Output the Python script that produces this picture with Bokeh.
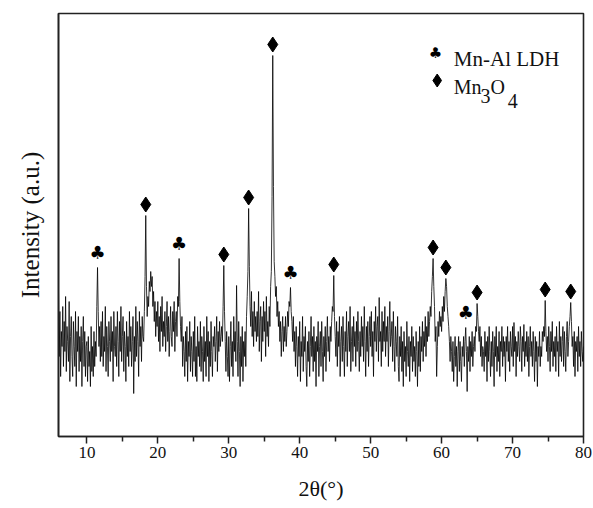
import numpy as np
from bokeh.plotting import figure
from bokeh.models import Range1d, FixedTicker, Label, ColumnDataSource
from bokeh.core.properties import value
from bokeh.embed import file_html
from bokeh.resources import INLINE

# ---- data ----
two_theta = np.round(np.arange(6.0, 80.0001, 0.1), 1)   # 2θ grid, 0.1° step

intensity = [
    145, 80, 125, 60, 105, 90, 130, 70, 115, 85,      # 6.x
    140, 65, 110, 95, 75, 135, 55, 100, 120, 80,      # 7.x
    60, 115, 90, 70, 125, 50, 105, 85, 120, 65,       # 8.x
    100, 75, 110, 50, 95, 120, 70, 105, 60, 90,       # 9.x
    95, 55, 100, 70, 85, 50, 110, 65, 90, 60,         # 10.x
    105, 70, 95, 80, 130, 169, 125, 90, 110, 75,      # 11.x
    115, 80, 125, 70, 100, 85, 130, 65, 110, 90,      # 12.x
    60, 115, 95, 75, 120, 85, 105, 55, 125, 90,       # 13.x
    80, 110, 70, 125, 95, 60, 115, 85, 130, 75,       # 14.x
    100, 120, 65, 105, 90, 55, 115, 80, 100, 70,      # 15.x
    125, 85, 110, 70, 95, 120, 43, 100, 75, 130,      # 16.x
    80, 115, 95, 60, 125, 90, 110, 75, 120, 100,      # 17.x
    95, 125, 160, 221, 150, 120, 140, 130, 155, 145,  # 18.x
    165, 150, 160, 130, 145, 115, 135, 100, 125, 110, # 19.x
    135, 95, 120, 85, 130, 105, 140, 90, 115, 100,    # 20.x
    125, 85, 110, 135, 95, 120, 80, 105, 130, 100,    # 21.x
    90, 125, 105, 135, 85, 115, 125, 100, 140, 130,   # 22.x
    178, 135, 110, 95, 120, 70, 100, 85, 60, 105,     # 23.x
    75, 110, 55, 95, 80, 115, 65, 100, 85, 60,        # 24.x
    105, 75, 120, 60, 90, 55, 110, 80, 95, 70,        # 25.x
    115, 65, 100, 85, 55, 110, 75, 95, 60, 120,       # 26.x
    80, 105, 55, 95, 70, 115, 85, 60, 100, 90,        # 27.x
    110, 75, 95, 120, 65, 105, 85, 115, 90, 100,      # 28.x
    110, 95, 130, 171, 125, 95, 65, 105, 80, 60,      # 29.x
    100, 55, 90, 115, 70, 95, 60, 120, 85, 105,       # 30.x
    75, 151, 95, 60, 115, 85, 50, 100, 70, 110,       # 31.x
    55, 95, 80, 105, 70, 120, 140, 165, 228, 170,     # 32.x
    130, 110, 145, 100, 125, 90, 135, 105, 120, 95,   # 33.x
    125, 100, 145, 85, 115, 130, 75, 120, 95, 135,    # 34.x
    105, 125, 80, 140, 100, 115, 90, 130, 110, 150,   # 35.x
    165, 240, 381, 250, 175, 160, 140, 150, 120, 135, # 36.x
    110, 125, 95, 115, 80, 105, 120, 85, 110, 95,     # 37.x
    120, 90, 105, 125, 110, 135, 130, 149, 125, 115,  # 38.x
    95, 120, 85, 105, 70, 110, 90, 60, 100, 80,       # 39.x
    115, 55, 95, 80, 120, 65, 100, 85, 110, 70,       # 40.x
    50, 95, 75, 105, 60, 90, 120, 80, 100, 65,        # 41.x
    110, 75, 95, 50, 100, 85, 115, 60, 90, 105,       # 42.x
    70, 115, 85, 55, 100, 80, 110, 65, 95, 120,       # 43.x
    85, 100, 75, 110, 95, 115, 130, 125, 161, 120,    # 44.x
    100, 80, 115, 70, 105, 90, 120, 60, 95, 110,      # 45.x
    75, 120, 90, 60, 105, 85, 125, 70, 100, 115,      # 46.x
    85, 130, 65, 95, 110, 75, 120, 90, 105, 70,       # 47.x
    115, 85, 125, 95, 65, 105, 80, 120, 90, 110,      # 48.x
    75, 130, 95, 60, 110, 85, 115, 70, 100, 120,      # 49.x
    90, 125, 80, 105, 60, 115, 95, 130, 85, 110,      # 50.x
    120, 75, 139, 95, 105, 70, 125, 85, 115, 95,      # 51.x
    130, 80, 110, 95, 120, 70, 105, 135, 90, 100,     # 52.x
    115, 75, 125, 90, 65, 110, 95, 80, 120, 70,       # 53.x
    55, 100, 80, 110, 65, 95, 50, 105, 75, 90,        # 54.x
    60, 115, 85, 70, 100, 55, 95, 80, 110, 65,        # 55.x
    100, 75, 90, 60, 105, 85, 50, 95, 70, 110,        # 56.x
    65, 100, 85, 115, 75, 105, 90, 120, 80, 110,      # 57.x
    95, 125, 100, 115, 130, 120, 145, 160, 178, 150,  # 58.x
    130, 95, 110, 60, 90, 115, 100, 125, 110, 120,    # 59.x
    105, 130, 115, 140, 125, 145, 158, 150, 130, 120, # 60.x
    110, 95, 75, 100, 85, 65, 95, 55, 80, 100,        # 61.x
    70, 90, 50, 85, 100, 65, 95, 75, 55, 90,          # 62.x
    80, 100, 70, 95, 109, 85, 45, 90, 75, 100,        # 63.x
    65, 95, 80, 105, 70, 90, 100, 85, 110, 105,       # 64.x
    133, 120, 105, 95, 110, 80, 100, 70, 90, 85,      # 65.x
    65, 105, 80, 95, 55, 100, 75, 110, 85, 60,        # 66.x
    95, 70, 105, 85, 50, 100, 80, 110, 65, 90,        # 67.x
    75, 105, 60, 95, 85, 110, 70, 100, 80, 95,        # 68.x
    55, 100, 85, 110, 75, 95, 65, 105, 90, 80,        # 69.x
    110, 70, 114, 85, 100, 60, 95, 80, 105, 90,       # 70.x
    75, 110, 95, 65, 100, 85, 112, 70, 95, 80,        # 71.x
    105, 75, 100, 60, 90, 110, 80, 95, 70, 105,       # 72.x
    85, 55, 100, 75, 95, 50, 90, 80, 105, 70,         # 73.x
    90, 80, 105, 95, 110, 100, 136, 105, 85, 100,     # 74.x
    75, 110, 90, 65, 105, 85, 115, 70, 95, 80,        # 75.x
    100, 65, 110, 85, 95, 60, 115, 80, 100, 75,       # 76.x
    95, 110, 70, 105, 85, 65, 100, 115, 80, 95,       # 77.x
    110, 120, 134, 115, 90, 100, 70, 105, 60, 95,     # 78.x
    85, 100, 65, 110, 80, 95, 70, 105, 85, 75,        # 79.x
    90,                                               # 80.0
]

ldh_peaks = [11.5, 23.0, 38.7, 63.4]                                        # Mn-Al LDH
mn3o4_peaks = [18.3, 29.3, 32.8, 36.2, 44.8, 58.8, 60.6, 65.0, 74.6, 78.2]  # Mn3O4

x_ticks = [10, 20, 30, 40, 50, 60, 70, 80]
x_minor = [15, 25, 35, 45, 55, 65, 75]

legend_ldh = "Mn-Al LDH"
x_title = "2θ(°)"
y_title = "Intensity (a.u.)"

# ---- figure ----
SERIF = "Liberation Serif"
CLUB = "\u2663"
intensity = np.array(intensity, dtype=float)


def peak_top(x0):
    i = int(np.argmin(np.abs(two_theta - x0)))
    return float(intensity[max(i - 1, 0):i + 2].max())


p = figure(width=593, height=508, output_backend="svg", toolbar_location=None,
           x_range=Range1d(6, 80), y_range=Range1d(0, 423),
           min_border_left=58, min_border_right=10, min_border_top=13,
           min_border_bottom=72)
p.background_fill_color = "white"
p.border_fill_color = "white"
p.grid.visible = False
p.outline_line_color = "#222222"
p.outline_line_width = 1.6

src = ColumnDataSource(dict(x=two_theta, y=intensity))
p.line("x", "y", source=src, line_color="black", line_width=0.8)

# peak markers
d_src = ColumnDataSource(dict(x=mn3o4_peaks, y=[peak_top(v) + 11 for v in mn3o4_peaks]))
p.scatter("x", "y", source=d_src, marker="diamond", size=15,
          fill_color="black", line_color="black")
c_src = ColumnDataSource(dict(x=ldh_peaks, y=[peak_top(v) + 15 for v in ldh_peaks],
                              t=[CLUB] * len(ldh_peaks)))
p.text("x", "y", text="t", source=c_src, text_font=value("DejaVu Sans"),
       text_font_size="18px", text_align="center", text_baseline="middle",
       text_color="black")

# x axis
xa = p.xaxis[0]
xa.ticker = FixedTicker(ticks=x_ticks, minor_ticks=x_minor)
xa.axis_label = x_title
xa.axis_label_text_font = SERIF
xa.axis_label_text_font_style = "normal"
xa.axis_label_text_font_size = "22px"
xa.axis_label_text_color = "#111111"
xa.axis_label_standoff = 15
xa.major_label_text_font = SERIF
xa.major_label_text_font_size = "17px"
xa.major_label_text_color = "#111111"
xa.major_label_standoff = 3
xa.major_tick_in = 0
xa.major_tick_out = 7
xa.minor_tick_in = 0
xa.minor_tick_out = 5
xa.axis_line_width = 1.6
xa.axis_line_color = "#222222"
xa.major_tick_line_width = 1.5
xa.minor_tick_line_width = 1.5
xa.major_tick_line_color = "#222222"
xa.minor_tick_line_color = "#222222"

# y axis
ya = p.yaxis[0]
ya.ticker = FixedTicker(ticks=[])
ya.major_tick_out = 0
ya.major_tick_in = 0
ya.minor_tick_out = 0
ya.minor_tick_in = 0
ya.major_label_standoff = 0
ya.axis_label = y_title
ya.axis_label_text_font = SERIF
ya.axis_label_text_font_style = "normal"
ya.axis_label_text_font_size = "25px"
ya.axis_label_text_color = "#111111"
ya.axis_label_standoff = 15
ya.axis_line_width = 1.6
ya.axis_line_color = "#222222"

# legend (drawn as annotations in the upper right)
p.add_layout(Label(x=59.14, y=384, text=CLUB, text_font="DejaVu Sans",
                   text_font_size="15px", text_align="center",
                   text_baseline="middle", text_color="black"))
p.add_layout(Label(x=61.72, y=377.7, text=legend_ldh, text_font=SERIF,
                   text_font_size="21px", text_baseline="alphabetic",
                   text_color="#111111"))
p.scatter(x=[59.38], y=[356], marker="diamond", size=13,
          fill_color="black", line_color="black")
for txt, lx, ly in [("Mn", 61.72, 349.3), ("3", 65.48, 341.0),
                    ("O", 66.89, 349.3), ("4", 69.33, 336.0)]:
    p.add_layout(Label(x=lx, y=ly, text=txt, text_font=SERIF,
                       text_font_size="20px", text_baseline="alphabetic",
                       text_color="#111111"))

open("out.html", "w").write(file_html(p, INLINE))
